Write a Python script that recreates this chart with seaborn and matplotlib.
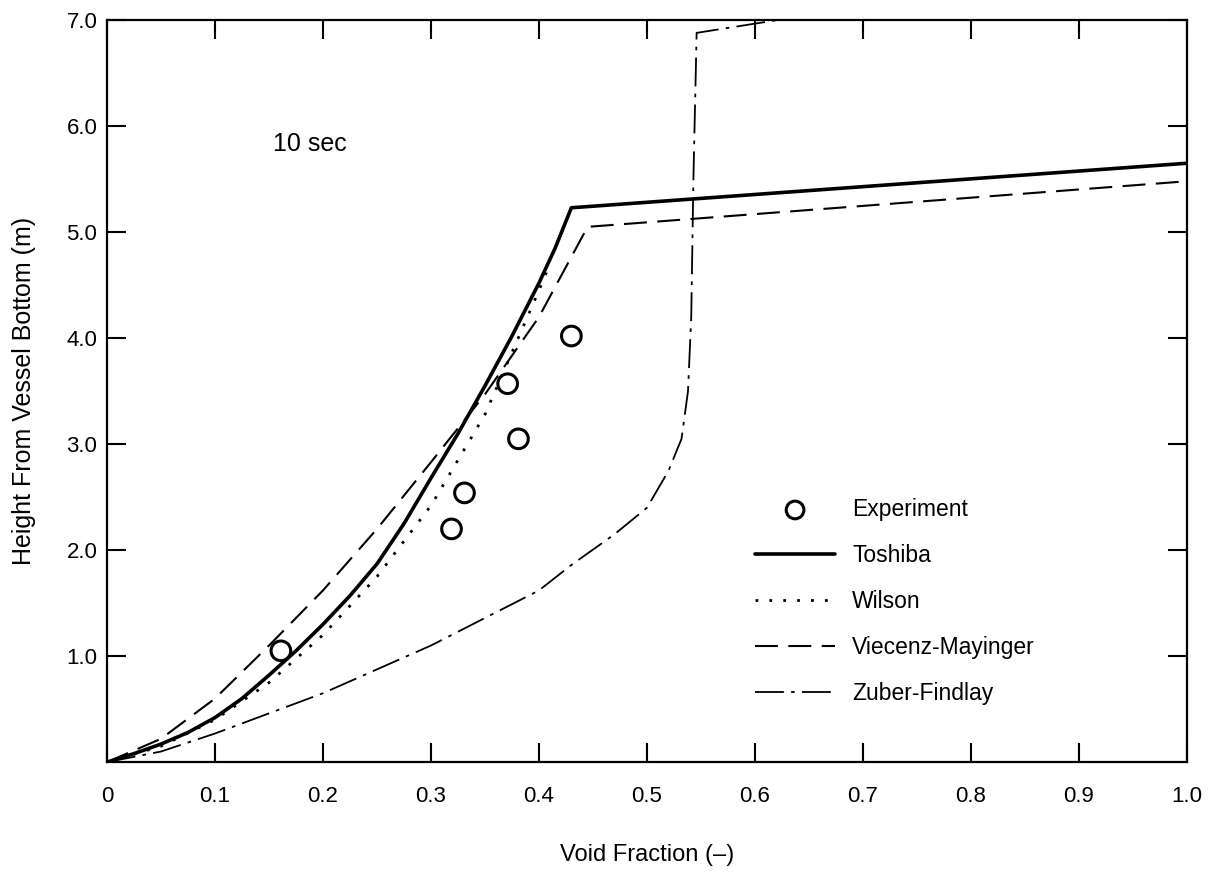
import matplotlib
matplotlib.use("Agg")
import matplotlib.pyplot as plt
import seaborn as sns

# Data
exp_x = [0.161, 0.319, 0.331, 0.371, 0.381, 0.430]
exp_y = [1.05, 2.20, 2.54, 3.57, 3.05, 4.02]

toshiba_x = [0.0, 0.025, 0.05, 0.075, 0.10, 0.125, 0.15, 0.175, 0.20, 0.225, 0.25, 0.275, 0.30, 0.325, 0.35, 0.375, 0.40, 0.415, 0.43, 1.0]
toshiba_y = [0.0, 0.08, 0.17, 0.28, 0.42, 0.60, 0.82, 1.05, 1.30, 1.57, 1.87, 2.25, 2.68, 3.10, 3.55, 4.02, 4.52, 4.85, 5.23, 5.65]

wilson_x = [0.0, 0.05, 0.10, 0.15, 0.20, 0.25, 0.30, 0.35, 0.40, 0.41]
wilson_y = [0.0, 0.15, 0.40, 0.75, 1.20, 1.75, 2.42, 3.28, 4.45, 4.70]

vm_x = [0.0, 0.05, 0.10, 0.15, 0.20, 0.25, 0.30, 0.35, 0.40, 0.445, 1.0]
vm_y = [0.0, 0.22, 0.60, 1.10, 1.62, 2.20, 2.83, 3.47, 4.20, 5.05, 5.48]

zf_x = [0.0, 0.05, 0.10, 0.20, 0.30, 0.40, 0.43, 0.47, 0.50, 0.52, 0.532, 0.538, 0.541, 0.543, 0.546, 0.67]
zf_y = [0.0, 0.10, 0.27, 0.65, 1.10, 1.62, 1.86, 2.15, 2.40, 2.75, 3.05, 3.50, 4.20, 5.50, 6.88, 7.08]

x_ticks = [0, 0.1, 0.2, 0.3, 0.4, 0.5, 0.6, 0.7, 0.8, 0.9, 1.0]
x_tick_labels = ["0", "0.1", "0.2", "0.3", "0.4", "0.5", "0.6", "0.7", "0.8", "0.9", "1.0"]
y_ticks = [1, 2, 3, 4, 5, 6, 7]
y_tick_labels = ["1.0", "2.0", "3.0", "4.0", "5.0", "6.0", "7.0"]

sns.set_style("ticks")
plt.rcParams['font.family'] = ['Liberation Sans', 'DejaVu Sans']
plt.rcParams['text.color'] = 'black'
plt.rcParams['axes.labelcolor'] = 'black'
plt.rcParams['xtick.color'] = 'black'
plt.rcParams['ytick.color'] = 'black'

fig = plt.figure(figsize=(12.12, 8.76), dpi=100)
ax = fig.add_axes([0.0883, 0.130, 0.8910, 0.847])

sns.scatterplot(x=exp_x, y=exp_y, ax=ax, marker='o', s=200, facecolor='none',
                edgecolor='black', linewidth=2.2, label='Experiment', zorder=5)
sns.lineplot(x=toshiba_x, y=toshiba_y, ax=ax, sort=False, color='black',
             linewidth=2.6, label='Toshiba')
sns.lineplot(x=wilson_x, y=wilson_y, ax=ax, sort=False, color='black',
             linewidth=2.0, label='Wilson')
ax.lines[-1].set_linestyle((0, (1, 4)))
sns.lineplot(x=vm_x, y=vm_y, ax=ax, sort=False, color='black',
             linewidth=1.5, label='Viecenz-Mayinger')
ax.lines[-1].set_linestyle((0, (11, 5)))
sns.lineplot(x=zf_x, y=zf_y, ax=ax, sort=False, color='black',
             linewidth=1.3, label='Zuber-Findlay')
ax.lines[-1].set_linestyle((0, (16, 4, 2, 4)))

ax.set_xlim(0, 1.0)
ax.set_ylim(0, 7.0)
ax.set_xticks(x_ticks)
ax.set_xticklabels(x_tick_labels)
ax.set_yticks(y_ticks)
ax.set_yticklabels(y_tick_labels)
ax.tick_params(direction='in', length=14, width=1.5, top=True, right=True,
               labelsize=16, color='black', labelcolor='black')
ax.tick_params(axis='x', pad=17)
ax.tick_params(axis='y', pad=7)
for sp in ax.spines.values():
    sp.set_visible(True)
    sp.set_linewidth(1.6)
    sp.set_color('black')

ax.set_xlabel("Void Fraction (\u2013)", fontsize=17, color='black')
ax.xaxis.set_label_coords(0.5, -0.110)
ax.set_ylabel("Height From Vessel Bottom (m)", fontsize=18, color='black')
ax.yaxis.set_label_coords(-0.066, 0.5)

ax.text(0.154, 5.83, "10 sec", fontsize=18, va='center', ha='left', color='black')

leg = ax.legend(loc='upper left', bbox_to_anchor=(0.600, 0.356), frameon=False,
                fontsize=16.5, handlelength=3.5, labelspacing=1.0, handletextpad=0.75,
                borderaxespad=0, borderpad=0, markerscale=0.9)
for t in leg.get_texts():
    t.set_color('black')

fig.savefig("out.png", dpi=100)
